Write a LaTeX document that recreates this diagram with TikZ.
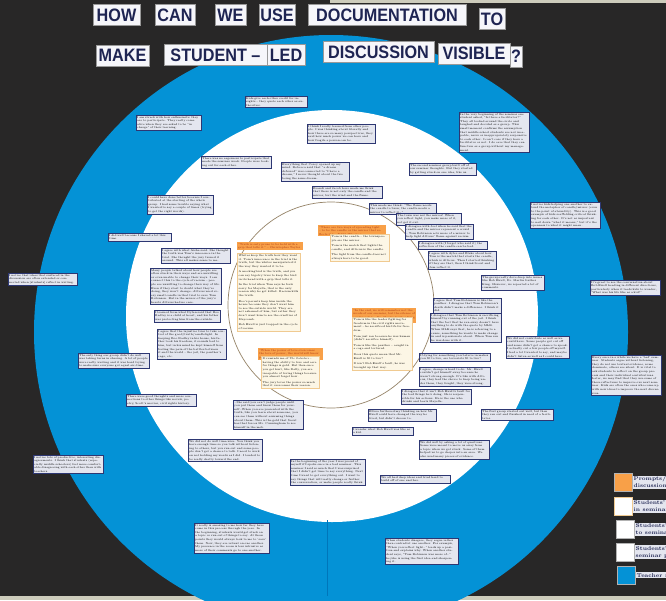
\documentclass[tikz,border=0pt]{standalone}
\usepackage{fontspec}
\newfontfamily\titlefont[FakeStretch=0.9]{Liberation Sans}
\usetikzlibrary{positioning}

\definecolor{boardblack}{RGB}{40,39,39}
\definecolor{stripbeige}{RGB}{205,204,188}
\definecolor{ringblue}{RGB}{4,146,214}
\definecolor{seamblue}{RGB}{0,118,186}
\definecolor{notegray}{RGB}{228,230,239}
\definecolor{notenavy}{RGB}{45,55,115}
\definecolor{quoteorange}{RGB}{248,160,72}
\definecolor{quotered}{RGB}{165,45,15}
\definecolor{creamnote}{RGB}{252,246,229}
\definecolor{creamedge}{RGB}{240,202,145}
\definecolor{circleline}{RGB}{150,132,104}
\definecolor{titlewhite}{RGB}{246,246,250}
\definecolor{titlenavy}{RGB}{30,36,82}

\newcommand\notesize{\fontsize{2.7}{3.6}\selectfont}

\begin{document}
\begin{tikzpicture}[x=1pt,y=-1pt,
    studnote/.style={draw=notenavy, line width=0.4pt, fill=notegray,
        inner sep=1pt, anchor=north west, align=left, font=\notesize},
    quotenote/.style={fill=quoteorange, text=quotered, inner sep=1pt,
        anchor=north west, align=left, font=\notesize},
    answernote/.style={draw=creamedge, line width=0.4pt, fill=creamnote,
        inner sep=1.5pt, anchor=north west, align=left, font=\notesize},
    titlebox/.style={fill=titlewhite, draw=black!40, line width=0.3pt,
        text=titlenavy, inner sep=0pt, minimum height=21pt,
        font=\titlefont\bfseries\fontsize{18}{18}\selectfont},
    legsquare/.style={minimum size=18pt, inner sep=0pt, anchor=north west,
        draw=black!30},
    legtext/.style={fill=notegray, text=titlenavy, inner sep=1pt, align=left,
        font=\bfseries\fontsize{5.5}{7}\selectfont}
    ]

    \useasboundingbox (0,0) rectangle (666,600);
    \clip (0,0) rectangle (666,600);

    % board
    \fill[boardblack] (0,0) rectangle (666,600);
    \fill[stripbeige] (330,0) rectangle (666,2.5);
    \fill[stripbeige] (0,596) rectangle (666,600);

    % rings
    \fill[ringblue] (331,332) circle[radius=297pt];
    \fill[white] (332,316) circle[radius=206pt];
    \draw[seamblue, line width=0.6pt] (327,520) -- (327,596);
    \draw[circleline, line width=0.7pt] (331,305) circle[radius=103pt];

    % title, first line
    \node[titlebox, minimum width=47pt] (how) at (116.5,15) {HOW};
    \node[titlebox, minimum width=40pt] (can) at (175,15) {CAN};
    \node[titlebox, minimum width=31pt] (we) at (230.5,15) {WE};
    \node[titlebox, minimum width=36pt] (use) at (277,15) {USE};
    \node[titlebox, minimum width=158pt] (doc) at (387,15) {DOCUMENTATION};
    \node[titlebox, minimum width=26pt] (to) at (492,19) {TO};

    % title, second line
    \node[titlebox, minimum width=53pt] (make) at (122.5,55.5) {MAKE};
    \node[titlebox, minimum width=103pt] (student) at (215.5,55) {STUDENT –};
    \node[titlebox, minimum width=38pt] (led) at (286,55) {LED};
    \node[titlebox, minimum width=111pt] (discussion) at (378.5,52) {DISCUSSION};
    \node[titlebox, minimum width=72pt] (visible) at (474,53.5) {VISIBLE};
    \node[titlebox, minimum width=12pt] (qmark) at (516,56.5) {?};

    % teacher reflections
    \node[studnote, text width=60pt] (t1) at (245,96) {Kids give each other credit for insights -- they quote each other as authorities.};
    \node[studnote, text width=63pt] (t2) at (136,115) {I am struck with how enthusiastic they are to participate. They really come alive when they are asked to be ``in charge'' of their learning.};
    \node[studnote, text width=68pt] (t3) at (459,112) {In the very beginning of the seminar one student asked, ``Is there a facilitator?'' They all looked around the circle and laughed and decided as a group. This small moment confirms the assumption that middle school students are not incapable, naive or inappropriately responsive to each other. I can't care if they have a facilitator or not. I do care that they can function as a group without my management.};
    \node[studnote, text width=68pt] (t4) at (530,202) {I notice kids helping one another to extend the metaphor of candle/mirror (even to the point of absurdity). This is a good example of kids scaffolding critical thinking for each other. It's not as important to nail down ``what it means,'' but it's the openness to what it might mean.};
    \node[studnote, text width=68pt] (t5) at (590,280) {It's great to see the conversation about Bob Ewell heading in different directions, particularly when it leads kids to wonder, `What was his life like as a kid?'};
    \node[studnote, text width=67pt] (t6) at (8,273) {I notice that ideas that surfaced in the discussion are often extended or connected when [students] reflect in writing.};
    \node[studnote, text width=68pt] (t7) at (591,355) {Every once in a while we have a `bad' seminar. Students argue without listening, they do not use textual evidence, some dominate, others are silent. It is vital to ask students to reflect on the group process and their individual contributions. Later, we may find that they use some of these reflections to improve our next seminar. Kids are often the ones who come up with new ideas to improve the next discussion.};
    \node[studnote, text width=68pt] (t8) at (33,455) {I notice lots of productive, interesting disagreements. I think that students (especially middle schoolers) feel more comfortable disagreeing with each other than with teachers.};
    \node[studnote, text width=73pt] (t9) at (194,523) {It really is amazing to me how far they have come in this process through the year. In the beginning, students would get stuck on a topic or run out of things to say. At those points they would always look to me to `save' them. Now, they are reliant on one another. My presence in the room is less intrusive as more of their comments go to one another.};
    \node[studnote, text width=71pt] (t10) at (385,538) {When students disagree, they argue rather than contradict one another. For example, ``When you reflect light\ldots'' leads up a position and explains why. When another student says, ``Tom Robinson was more of\ldots'' he/she is using the first idea and sharpening it.};

    % students' responses and reflections
    \node[studnote, text width=66pt] (s1) at (307,124) {I think I really learned from other people. I was thinking about literally and how there are so many perspectives, they said how much power we can have and how fragile a person can be.};
    \node[studnote, text width=68pt] (s2) at (201,156) {There was no eagerness to participate that made the seminar weak. People were looking out for each other.};
    \node[studnote, text width=66pt] (s3) at (281,162) {Everything that Corey opened up my mind. Rebecca said that ``a dream deferred'' was connected to ``I have a dream,'' I never thought about the two being the same dream.};
    \node[studnote, text width=68pt] (s4) at (312,186) {Brandi and Jacob have made me think that there is not only the candle and the mirror, but the wind and the flame.};
    \node[studnote, text width=65pt] (s5) at (409,163) {The second seminar group built off of our seminar thoughts. But they started by getting stuck on one idea, like us.};
    \node[studnote, text width=64pt] (s6) at (147,195) {I could have done better because I contributed at the starting of the whole group. I had some trouble saying what I wanted to say a couple of times (trying to get the right words).};
    \node[studnote, text width=61pt] (s7) at (108,233) {I did well because I shared a lot this time.};
    \node[studnote, text width=65pt] (s8) at (369,203) {This made me think: ``The flame needs the candle to burn; the candle needs a mirror to reflect it\ldots''};
    \node[studnote, text width=63pt] (s9) at (396,213) {The town was not the mirror! When you reflect light, you make more of it, not get it out.};
    \node[studnote, text width=66pt] (s10) at (405,224) {I disagree with Joel when he said that the candle and the mirror represent a crowd -- Tom Robinson acts more of a mirror to help light Atticus' flame against racism.};
    \node[studnote, text width=67pt] (s11) at (418,241) {I disagree with (I forget who said it) the reflection of the candle can be bad.};
    \node[studnote, text width=66pt] (s12) at (428,251) {I agree with Aylee and Blake about how Tom is the match that starts the candle, which is Atticus. Then I started thinking if they are that, then I think Scout and Jem reflect it.};
    \node[studnote, text width=61pt] (s13) at (481,275) {The group really dove deep into issues like Bob Ewell, Dr. Martin Luther King. However, we repeated a lot of comments.};
    \node[studnote, text width=67pt] (s14) at (161,248) {I agree with what Aisha said. She thought the truth was Tom's innocence in the trial. She thought the jury turned it around. This all makes sense to me.};
    \node[studnote, text width=69pt] (s15) at (150,268) {Many people talked about how people are often stuck in their ways and are unwilling or even unable to change their ways. I can connect this to the cycle of racism -- people are unwilling to change their way of life. Even if they start to doubt what they're doing, they won't change\ldots Atticus used every small candle in that trial to save Tom Robinson. But in the mirror of the jury's hearts Atticus had no case.};
    \node[studnote, text width=64pt] (s16) at (154,310) {I learned from what Dylan said that Boo Radley is a child at heart, and his father was protecting him from the outside.};
    \node[studnote, text width=67pt] (s17) at (157,329) {I agree that the injustice tries to take control of the good/truth/candlelight. In keeping Boo Radley in his house, his father took his freedom, it sounds bad to him, but in his mind he kept himself from feeling the pain of the battles between it and the world -- the jail, the panther's cage, etc.};
    \node[studnote, text width=66pt] (s18) at (433,298) {I agree that Tom Robinson is like the panther. I disagree that Tom Robinson's death didn't make a difference. I think it did.};
    \node[studnote, text width=69pt] (s19) at (430,313) {I disagree that Tom Robinson is sacrificing himself by running out of the jail. I think that the fact that he ran away doesn't have anything to do with the quote by MLK. When MLK says that, he is referring to a cause, something he wants to make change in and is passionate about. When Tom ran he was done with it.};
    \node[studnote, text width=61pt] (s20) at (506,336) {We did not contribute as well as we could have. Some people got cut off and some didn't get a chance to speak. I actually cut a few people off myself. I had a lot I wanted to say, and maybe didn't listen as well as I could have.};
    \node[studnote, text width=69pt] (s21) at (419,353) {If dying for something you believe in makes you fit to live, are terrorists fit to live?};
    \node[studnote, text width=69pt] (s22) at (419,367) {I agree, change is hard to do. Mr. Ewell couldn't get himself away because he wasn't strong enough. It's like with Atticus, they had the choice to keep being under them, they fought, they were strong.};
    \node[studnote, text width=68pt] (s23) at (401,389) {I disagree that it isn't Bob Ewell's fault for the bad things he's doing. He is responsible for his actions. He is the one who drinks and beats Mayella.};
    \node[studnote, text width=66pt] (s24) at (368,409) {Ellora furthered my thinking on how Mr. Ewell could have changed the way he lived, but didn't choose to.};
    \node[studnote, text width=59pt] (s25) at (352,427) {I wonder what Bob Ewell was like as a kid.};
    \node[studnote, text width=70pt] (s26) at (481,409) {The first group started out well, but then they ran out and finished in need of a facilitator.};
    \node[studnote, text width=68pt] (s27) at (419,440) {We did well by asking a lot of questions. Some were meant to move us away from a topic when we got stuck. Some of them helped us to go deeper into an area. We also used many pieces of evidence.};
    \node[studnote, text width=68pt] (s28) at (380,475) {We all had deep ideas and tried hard to build off of one another.};
    \node[studnote, text width=73pt] (s29) at (290,459) {In the beginning of the year I was proud of myself if I spoke once in a bad seminar. This seminar I said so much that I was surprised that I didn't get time to say everything. Next time I want to get everything out. I want to say things that will really change or further the conversation, or make people really think.};
    \node[studnote, text width=72pt] (s30) at (188,439) {We did not do well time-wise. You think you have enough time so you talk without listening to others, but you run out and some people don't get a chance to talk. I need to work on not holding my words as I did. I tended to be really chatty toward the end.};
    \node[studnote, text width=68pt] (s31) at (233,400) {\ldots She said you can't judge people until you put them and know them for yourself\ldots When you are presented with the truth, like you learn about someone, you can see them without assuming things about them\ldots This is the gold that Scout has that forces Mr. Cunningham to see himself in the mob.};
    \node[studnote, text width=69pt] (s32) at (78,353) {The only thing our group didn't do well was taking turns in sharing. A lot of people were really waiting and it was hard trying to make sure everyone got equal air-time.};
    \node[studnote, text width=68pt] (s33) at (126,394) {There were good thoughts and more connections to other things like novels, poetry, Scott's movies, civil rights history.};

    % prompts and verbal responses in the inner circle
    \node[quotenote, text width=64pt] (q1) at (237,242) {``Truth is only prone to be held with a grip that tells it.'' -- Christopher Taylor};
    \node[answernote, text width=60pt] (a1) at (237,253) {Whites keep the truth how they want it. Tom's innocence in the trial is the truth, but the whites manipulated it the way they wanted it to be.\\[2pt]
        A mockingbird is the truth, and you can say bigotry tries to keep the bird in its hand with a grip that tells it.\\[2pt]
        In the trial when Tom says he feels sorry for Mayella, that is the only reason why he got killed. Racism kills the truth.\\[2pt]
        Boo's parents keep him inside the house because they don't want him to see the outside world. They are not ashamed of him, but rather they don't want him to see the cruelties of Maycomb.\\[2pt]
        Bob Ewell is just trapped in the cycle of racism.};
    \node[quotenote, text width=66pt] (q2) at (318,225) {``There are two ways of spreading light -- to be the candle or the mirror that reflects it.'' -- Edith Wharton};
    \node[answernote, text width=56pt] (a2) at (330,234) {Tom is the candle -- the townspeople are the mirror.\\[2pt]
        Tom is the match that lights the candle, and Atticus is the candle.\\[2pt]
        The light from the candle does not always have to be good.};
    \node[quotenote, text width=62pt] (q3) at (352,308) {``In the end, we will remember not the words of our enemies, but the silence of our friends.'' -- Dr. Martin Luther King Jr.};
    \node[answernote, text width=57pt] (a3) at (352,317) {Tom is like the leader fighting for freedom in the civil rights movement -- he sacrificed his life for freedom.\\[2pt]
        Tom just ran because he was human (didn't sacrifice himself).\\[2pt]
        Tom is like the panther -- caught in a cage and tortured.\\[2pt]
        Does this quote mean that Mr. Ewell is fit to live?\\[2pt]
        It isn't Bob Ewell's fault, he was brought up that way.};
    \node[quotenote, text width=63pt] (q4) at (258,348) {``When the power of love overcomes the love of power, the world will know peace.'' -- Jimi Hendrix};
    \node[answernote, text width=55pt] (a4) at (261,356) {It reminds me of \emph{The Outsiders} -- having the ability to love and care for things is gold. But then once you get hurt, like Dally, you are incapable of loving things because you almost forget how.\\[2pt]
        The jury loves the power so much that it overcomes their reason.};

    % legend
    \node[legsquare, fill=quoteorange] (leg1) at (614,473) {};
    \node[legsquare, fill=white, draw=creamedge] (leg2) at (614,497) {};
    \node[legsquare, fill=white] (leg3) at (616,520) {};
    \node[legsquare, fill=white] (leg4) at (616,543) {};
    \node[legsquare, fill=ringblue] (leg5) at (617,566) {};
    \node[legtext, right=0pt of leg1] (legt1) {Prompts/quotes for\\discussion};
    \node[legtext, right=0pt of leg2] (legt2) {Students' verbal responses\\in seminar};
    \node[legtext, right=0pt of leg3] (legt3) {Students' individual responses\\to seminar};
    \node[legtext, right=0pt of leg4] (legt4) {Students' individual reflections on\\seminar process};
    \node[legtext, right=0pt of leg5] (legt5) {Teacher reflections};

\end{tikzpicture}
\end{document}
